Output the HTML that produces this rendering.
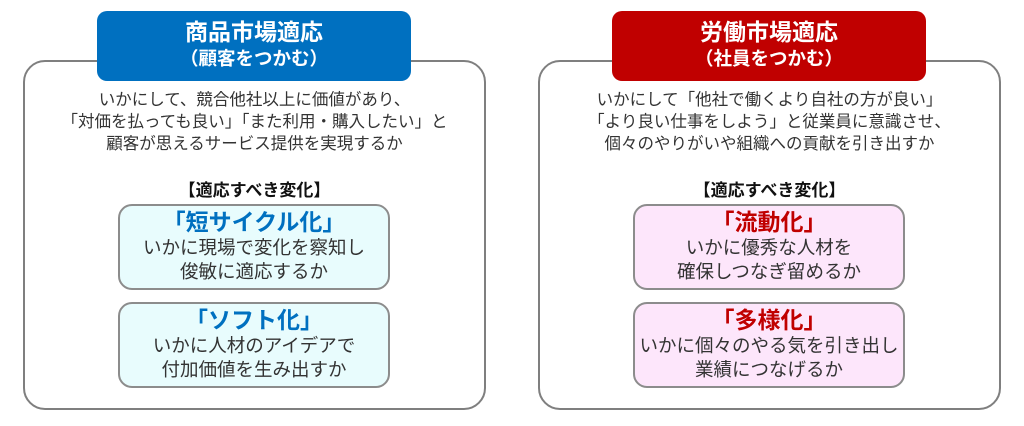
<!DOCTYPE html><html><head><meta charset="utf-8"><style>
body{margin:0;width:1024px;height:426px;background:#fff;position:relative;font-family:"Liberation Sans","Noto Sans CJK JP",sans-serif;color:#333;overflow:hidden}
.o{position:absolute;top:60px;width:463px;height:350px;border:2px solid #7f7f7f;border-radius:22px;box-sizing:border-box}
.h{position:absolute;top:11px;width:314px;height:70px;border-radius:10px;color:#fff;font-weight:bold;text-align:center;box-sizing:border-box;padding-top:7px}
.h .a{font-size:23px;line-height:28px}.h .b{font-size:18.5px;line-height:26px}
.t{position:absolute;top:89px;width:463px;text-align:center;font-size:16.5px;line-height:22px}
.k{position:absolute;top:176px;width:463px;text-align:center;font-size:17px;font-weight:bold;color:#111}
.i{position:absolute;width:272px;height:86px;border:2px solid #8c8c8c;border-radius:14px;box-sizing:border-box;text-align:center;font-size:18.5px;line-height:24px;padding-top:2px;white-space:nowrap}
.i b{display:block;font-size:23px;line-height:28px}
.L .i{background:#e8fcfd}.L .i b{color:#0070c0}
.R .i{background:#fde6fb}.R .i b{color:#c00000}
</style></head><body>
<div class="L">
<div class="o" style="left:23px"></div>
<div class="h" style="left:97px;background:#0070c0">
<div class="a">商品市場適応</div><div class="b">（顧客をつかむ）</div></div>
<div class="t" style="left:23px">いかにして、競合他社以上に価値があり、<br>「対価を払っても良い」「また利用・購入したい」と<br>顧客が思えるサービス提供を実現するか</div>
<div class="k" style="left:23px">【適応すべき変化】</div>
<div class="i" style="left:118px;top:204px"><b>「短サイクル化」</b>いかに現場で変化を察知し<br>俊敏に適応するか</div>
<div class="i" style="left:118px;top:302px"><b>「ソフト化」</b>いかに人材のアイデアで<br>付加価値を生み出すか</div>
</div>
<div class="R">
<div class="o" style="left:538px"></div>
<div class="h" style="left:612px;background:#c00000">
<div class="a">労働市場適応</div><div class="b">（社員をつかむ）</div></div>
<div class="t" style="left:538px">いかにして「他社で働くより自社の方が良い」<br>「より良い仕事をしよう」と従業員に意識させ、<br>個々のやりがいや組織への貢献を引き出すか</div>
<div class="k" style="left:538px">【適応すべき変化】</div>
<div class="i" style="left:633px;top:204px"><b>「流動化」</b>いかに優秀な人材を<br>確保しつなぎ留めるか</div>
<div class="i" style="left:633px;top:302px"><b>「多様化」</b>いかに個々のやる気を引き出し<br>業績につなげるか</div>
</div>
</body></html>
